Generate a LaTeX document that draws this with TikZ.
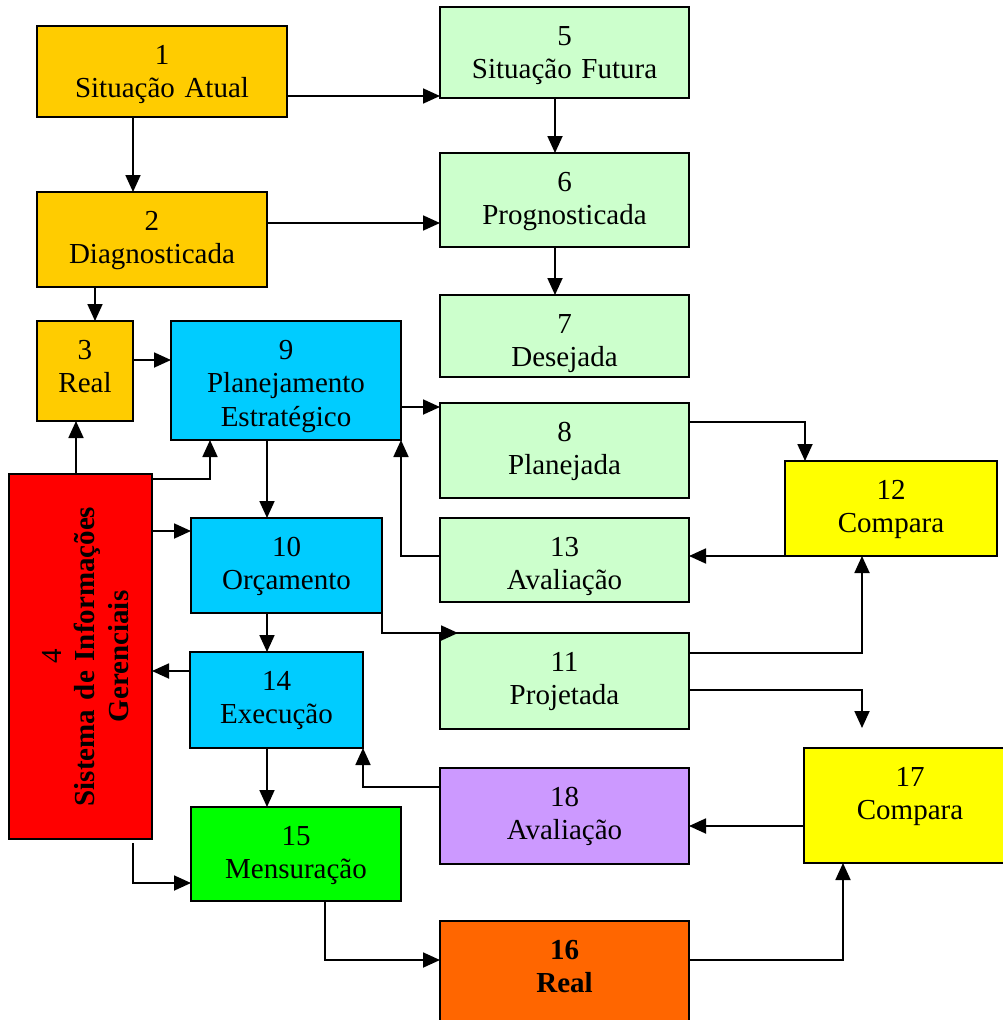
\documentclass[tikz,border=0pt]{standalone}
\usepackage{fontspec}
\setmainfont{Liberation Serif}
\usetikzlibrary{arrows.meta,calc}
\definecolor{orgA}{HTML}{FFCC00}
\definecolor{lgrn}{HTML}{CCFFCC}
\definecolor{cyanB}{HTML}{00CCFF}
\definecolor{redC}{HTML}{FF0000}
\definecolor{yelD}{HTML}{FFFF00}
\definecolor{lavE}{HTML}{CC99FF}
\definecolor{grnF}{HTML}{00FF00}
\definecolor{orgG}{HTML}{FF6600}
\newcommand\mkbox[6]{\node[boxstyle,fill=#6,anchor=north west,minimum width={#4pt-#2pt},minimum height={#5pt-#3pt}] (#1) at (#2,#3) {};}
\begin{document}
\begin{tikzpicture}[x=1pt,y=-1pt,
  boxstyle/.style={draw=black,line width=1.8pt,inner sep=0pt,outer sep=0pt},
  txt/.style={anchor=base,align=center,text width=360pt,inner sep=0pt,font=\fontsize{29}{33.5}\selectfont},
  arr/.style={draw=black,line width=1.8pt,-{Triangle[length=17pt,width=15pt]}}]
\useasboundingbox (0,0) rectangle (1003,1020);
\clip (0,0) rectangle (1003,1020);
% boxes
\mkbox{b1}{37}{26}{287}{117}{orgA}
\mkbox{b5}{440}{7}{689}{98}{lgrn}
\mkbox{b2}{37}{192}{267}{287}{orgA}
\mkbox{b6}{440}{153}{689}{247}{lgrn}
\mkbox{b3}{37}{321}{133}{421}{orgA}
\mkbox{b9}{171}{321}{401}{440}{cyanB}
\mkbox{b7}{440}{295}{689}{377}{lgrn}
\mkbox{b8}{440}{403}{689}{498}{lgrn}
\mkbox{b12}{785}{461}{997}{556}{yelD}
\mkbox{b4}{9}{474}{152}{839}{redC}
\mkbox{b10}{191}{518}{382}{613}{cyanB}
\mkbox{b13}{440}{518}{689}{602}{lgrn}
\mkbox{b11}{440}{633}{689}{729}{lgrn}
\mkbox{b14}{190}{652}{363}{748}{cyanB}
\mkbox{b17}{804}{748}{1016}{863}{yelD}
\mkbox{b18}{440}{768}{689}{864}{lavE}
\mkbox{b15}{191}{807}{401}{901}{grnF}
\mkbox{b16}{440}{921}{689}{1045}{orgG}
% texts
\node[txt] (t1) at ($(b1.north)+(0,38)$) {1\\Situação Atual};
\node[txt] (t5) at ($(b5.north)+(0,38)$) {5\\Situação Futura\hspace*{22pt}};
\node[txt] (t2) at ($(b2.north)+(0,38)$) {2\\Diagnosticada};
\node[txt] (t6) at ($(b6.north)+(0,38)$) {6\\Prognosticada};
\node[txt] (t3) at ($(b3.north)+(0,38)$) {3\\Real};
\node[txt] (t9) at ($(b9.north)+(0,38)$) {9\\Planejamento\\Estratégico};
\node[txt] (t7) at ($(b7.north)+(0,38)$) {7\\Desejada};
\node[txt] (t8) at ($(b8.north)+(0,38)$) {8\\Planejada};
\node[txt] (t12) at ($(b12.north)+(0,38)$) {12\\Compara};
\node[txt,rotate=90] (t4) at ($(b4.west)+(52,0)$) {4\\\textbf{Sistema de Informações}\\\textbf{Gerenciais}};
\node[txt] (t10) at ($(b10.north)+(0,38)$) {10\\Orçamento};
\node[txt] (t13) at ($(b13.north)+(0,38)$) {13\\Avaliação};
\node[txt] (t11) at ($(b11.north)+(0,38)$) {11\\Projetada};
\node[txt] (t14) at ($(b14.north)+(0,38)$) {14\\Execução};
\node[txt] (t17) at ($(b17.north)+(0,38)$) {17\\Compara};
\node[txt] (t18) at ($(b18.north)+(0,38)$) {18\\Avaliação};
\node[txt] (t15) at ($(b15.north)+(0,38)$) {15\\Mensuração};
\node[txt] (t16) at ($(b16.north)+(0,38)$) {\textbf{16}\\\textbf{Real}};
% connectors
\draw[arr] (b1.east |- 0,96) -- (b5.west |- 0,96);
\draw[arr] (b1.south -| 133,0) -- (b2.north -| 133,0);
\draw[arr] (b5.south -| 555,0) -- (b6.north -| 555,0);
\draw[arr] (b2.east |- 0,223) -- (b6.west |- 0,223);
\draw[arr] (b6.south -| 555,0) -- (b7.north -| 555,0);
\draw[arr] (b2.south -| 95,0) -- (b3.north -| 95,0);
\draw[arr] (b3.east |- 0,360) -- (b9.west |- 0,360);
\draw[arr] (b9.east |- 0,407) -- (b8.west |- 0,407);
\draw[arr] (b8.east |- 0,422) -| (b12.north -| 805,0);
\draw[arr] (b12.south west) -- (b13.east |- 0,556);
\draw[arr] (b13.west |- 0,556) -| (b9.south east);
\draw[arr] (b4.north -| 76,0) -- (b3.south -| 76,0);
\draw[arr] (b4.east |- 0,479) -| (b9.south -| 210,0);
\draw[arr] (b9.south -| 267,0) -- (b10.north -| 267,0);
\draw[arr] (b4.east |- 0,531) -- (b10.west |- 0,531);
\draw[arr] (b10.south east) |- ($(b11.north west)+(18,0)$);
\draw[arr] (b11.east |- 0,653) -| (b12.south -| 862,0);
\coordinate (c17) at (862,728);
\draw[arr] (b11.east |- 0,690) -| (c17);
\draw[arr] (b10.south -| 267,0) -- (b14.north -| 267,0);
\draw[arr] (b14.west |- 0,671) -- (b4.east |- 0,671);
\draw[arr] (b18.west |- 0,787) -| (b14.south east);
\draw[arr] (b17.west |- 0,826) -- (b18.east |- 0,826);
\draw[arr] (b14.south -| 267,0) -- (b15.north -| 267,0);
\draw[arr] ($(b4.south -| 133,0)+(0,4)$) |- (b15.west |- 0,883);
\draw[arr] (b15.south -| 325,0) |- (b16.west |- 0,960);
\draw[arr] (b16.east |- 0,960) -| (b17.south -| 843,0);
\end{tikzpicture}
\end{document}
